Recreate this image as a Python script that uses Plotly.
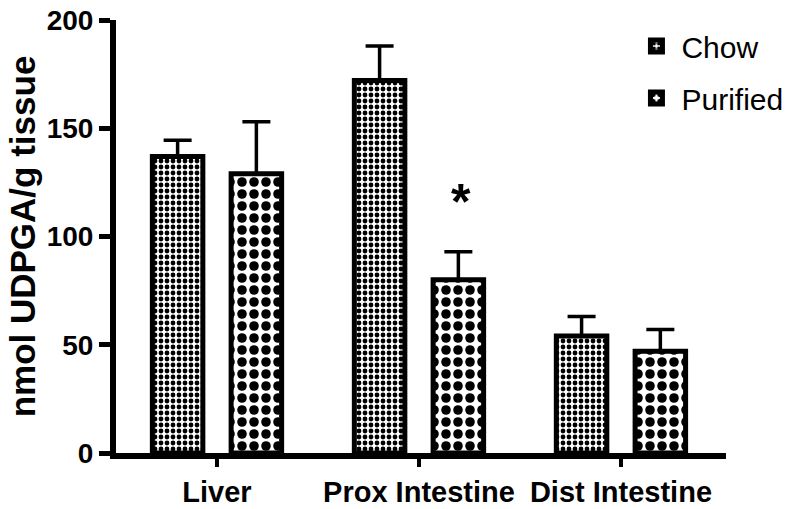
import plotly.graph_objects as go

# values
tissues = ["Liver", "Prox Intestine", "Dist Intestine"]
chow_mean = [137, 172, 54]
chow_sem = [7.5, 16, 9]
purified_mean = [129, 80, 47]
purified_sem = [24, 13, 10]

FONT = "Liberation Sans, Arial, sans-serif"

fig = go.Figure()

# Chow: fine checker, Purified: coarse checker
fig.add_trace(go.Bar(
    x=tissues, y=chow_mean, name="Chow",
    width=0.25, offset=-0.32,
    marker=dict(color="white", line=dict(color="black", width=5),
                pattern=dict(shape=".", size=6, solidity=0.5,
                             fgcolor="black", bgcolor="white", fillmode="replace")),
    error_y=dict(type="data", symmetric=False, array=chow_sem,
                 arrayminus=[0] * len(chow_sem), color="black",
                 thickness=3.5, width=14),
    legendgroup="a",
))
fig.add_trace(go.Bar(
    x=tissues, y=purified_mean, name="Purified",
    width=0.25, offset=0.07,
    marker=dict(color="white", line=dict(color="black", width=5),
                pattern=dict(shape=".", size=12, solidity=0.5,
                             fgcolor="black", bgcolor="white", fillmode="replace")),
    error_y=dict(type="data", symmetric=False, array=purified_sem,
                 arrayminus=[0] * len(purified_sem), color="black",
                 thickness=3.5, width=14),
    legendgroup="b",
))

# significance marker above Prox Intestine / Purified
fig.add_annotation(x="Prox Intestine", y=purified_mean[1] + purified_sem[1] + 23,
                   xshift=42, text="<b>*</b>", showarrow=False,
                   font=dict(family=FONT, size=50, color="black"),
                   yanchor="middle")

fig.update_layout(
    width=800, height=509,
    margin=dict(l=116, r=74, t=20, b=56, autoexpand=False),
    plot_bgcolor="white", paper_bgcolor="white",
    font=dict(family=FONT, color="black"),
    barmode="overlay",
    showlegend=True,
    legend=dict(x=0.845, y=1.0, xanchor="left", yanchor="top",
                font=dict(family=FONT, size=30, color="black"),
                traceorder="grouped", tracegroupgap=10,
                bgcolor="rgba(0,0,0,0)", itemwidth=40),
    xaxis=dict(range=[-0.5, 2.52], showline=True, linewidth=6, linecolor="black",
               ticks="outside", ticklen=8, tickwidth=4, tickcolor="black",
               tickfont=dict(family=FONT, size=29, color="black", weight="bold"),
               showgrid=False, zeroline=False, automargin=False,
               ticklabeloverflow="allow"),
    yaxis=dict(range=[0, 200], showline=True, linewidth=6, linecolor="black",
               tickvals=[0, 50, 100, 150, 200],
               ticks="outside", ticklen=11, tickwidth=5, tickcolor="black",
               tickfont=dict(family=FONT, size=28, color="black", weight="bold"),
               showgrid=False, zeroline=False, automargin=False,
               ticklabeloverflow="allow",
               title=dict(text="<b>nmol UDPGA/g tissue</b>", standoff=2,
                          font=dict(family=FONT, size=35, color="black"))),
)

# drop the browser's default 8px body margin so the figure fills the window
fig.write_html("out.html", config={"displayModeBar": False},
               post_script="document.body.style.margin='0';")
